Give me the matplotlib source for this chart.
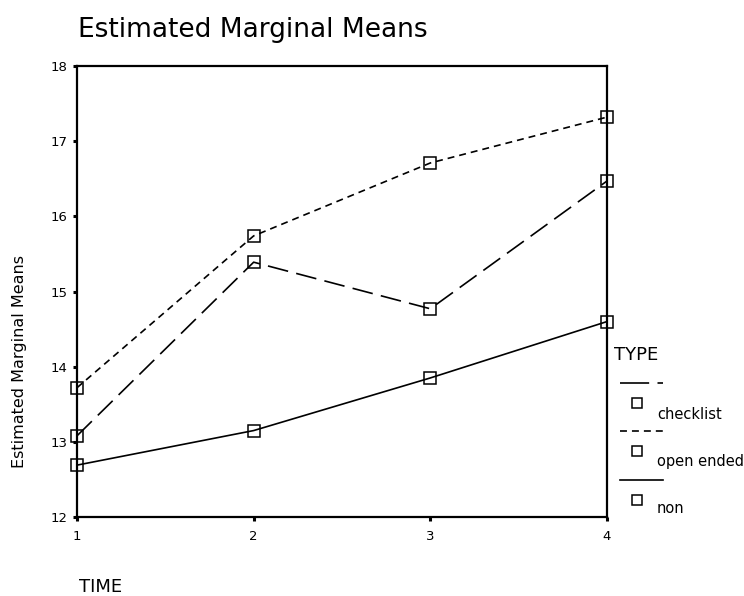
import matplotlib.pyplot as plt
from matplotlib.lines import Line2D

plt.rcParams['font.family'] = ['DejaVu Sans']
plt.rcParams['lines.scale_dashes'] = False

# estimated marginal means by TIME and TYPE
time_points = [1, 2, 3, 4]
type_labels = ['checklist', 'open ended', 'non']
checklist_means = [13.08, 15.39, 14.77, 16.47]
open_ended_means = [13.72, 15.74, 16.71, 17.32]
non_means = [12.69, 13.15, 13.85, 14.60]
y_ticks = [12, 13, 14, 15, 16, 17, 18]

W, H = 744, 596


def fpos(x, y):
    """pixel position (origin top-left) -> figure fraction"""
    return x / W, 1 - y / H


styles = [(0, (15, 6)), (0, (5, 3.6)), '-']
# the legend samples use a longer dash for checklist, as in the original
legend_styles = [(0, (21, 6)), (0, (5, 3.6)), '-']
series = [checklist_means, open_ended_means, non_means]

fig = plt.figure(figsize=(W / 100, H / 100), dpi=100)
ax = fig.add_axes([77 / W, 1 - 517 / H, (607 - 77) / W, (517 - 66) / H])

for vals, ls in zip(series, styles):
    ax.plot(time_points, vals, color='black', lw=1.2, linestyle=ls,
            marker='s', markersize=8, markerfacecolor='none',
            markeredgecolor='black', markeredgewidth=1.1, clip_on=False)

ax.set_xlim(1, 4)
ax.set_ylim(12, 18)
ax.set_xticks(time_points)
ax.set_yticks(y_ticks)
ax.tick_params(direction='out', length=3, width=2.2, labelsize=9.5, color='black')
ax.tick_params(axis='x', pad=6)
ax.tick_params(axis='y', pad=4)
for sp in ax.spines.values():
    sp.set_linewidth(1.6)

# titles
fig.text(*fpos(78, 30), 'Estimated Marginal Means', fontsize=19, ha='left', va='center')
fig.text(*fpos(20, 362), 'Estimated Marginal Means', fontsize=11.5,
         rotation=90, ha='center', va='center')
fig.text(*fpos(79, 587), 'TIME', fontsize=13, ha='left', va='center')

# legend drawn by hand: line sample, marker below it, label to the right
fig.text(*fpos(614, 355), 'TYPE', fontsize=13, ha='left', va='center')
line_y = [383, 431, 480]
label_y = [419, 466, 513]
for lab, ls, ly, ty in zip(type_labels, legend_styles, line_y, label_y):
    x0, y0 = fpos(620, ly)
    x1, _ = fpos(663, ly)
    fig.add_artist(Line2D([x0, x1], [y0, y0], color='black', lw=1.2, linestyle=ls))
    mx, my = fpos(637, ly + 20)
    fig.add_artist(Line2D([mx], [my], marker='s', markersize=7, markerfacecolor='none',
                          markeredgecolor='black', markeredgewidth=1.1))
    fig.text(*fpos(657, ty), lab, fontsize=10.5, ha='left', va='baseline')

fig.savefig('out.png', dpi=100)
